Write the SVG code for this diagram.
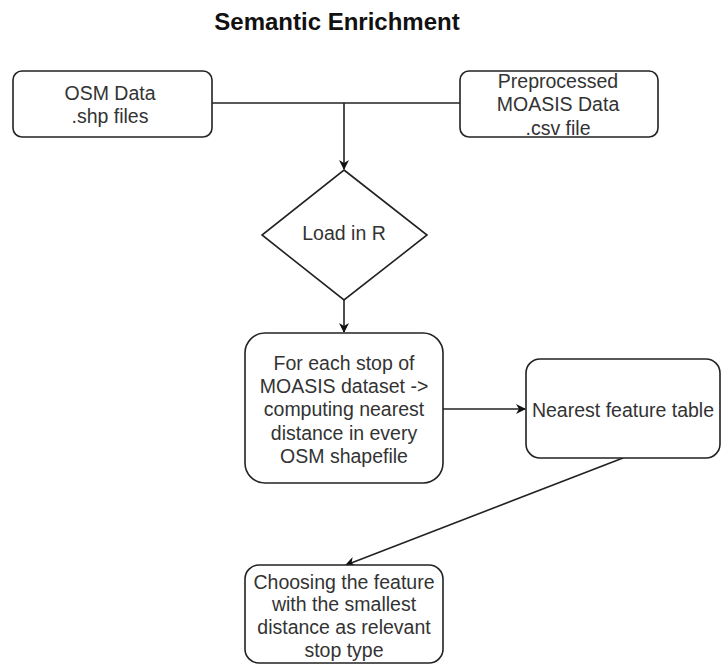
<svg xmlns="http://www.w3.org/2000/svg" width="721" height="666" viewBox="0 0 721 666">
<defs>
<style>
.box{fill:#fff;stroke:#222;stroke-width:1.6}
.t{font-family:"Liberation Sans",Arial,sans-serif;font-size:19.5px;fill:#333;text-anchor:middle}
.title{font-family:"Liberation Sans",Arial,sans-serif;font-size:24px;font-weight:bold;fill:#111;text-anchor:middle}
.edge{fill:none;stroke:#222;stroke-width:1.6}
</style>
<marker id="arr" viewBox="0 0 10 10" refX="9" refY="5" markerWidth="10" markerHeight="10" markerUnits="userSpaceOnUse" orient="auto">
<path d="M0,0 L10,5 L0,10 L3,5 Z" fill="#111"/>
</marker>
</defs>
<rect width="721" height="666" fill="#fff"/>
<text class="title" x="337" y="30">Semantic Enrichment</text>

<g id="connectors">
<path class="edge" d="M212,103 H460"/>
<path class="edge" d="M344,103 V169" marker-end="url(#arr)"/>
<path class="edge" d="M344,300 V332" marker-end="url(#arr)"/>
<path class="edge" d="M443,409 H525" marker-end="url(#arr)"/>
<path class="edge" d="M623,458 L346,565" marker-end="url(#arr)"/>
</g>

<g id="osm">
<rect class="box" x="13" y="71" width="199" height="66" rx="9"/>
<text class="t" x="110" y="100">OSM Data</text>
<text class="t" x="110" y="123">.shp files</text>
</g>

<g id="moasis">
<rect class="box" x="460" y="71" width="198" height="66" rx="9"/>
<text class="t" x="558" y="88">Preprocessed</text>
<text class="t" x="558" y="111">MOASIS Data</text>
<text class="t" x="558" y="135">.csv file</text>
</g>

<g id="load">
<polygon class="box" points="344,170 427,235 344,300 262,235"/>
<text class="t" x="344" y="240">Load in R</text>
</g>

<g id="compute">
<rect class="box" x="245" y="333" width="198" height="150" rx="20"/>
<text class="t" x="344" y="370">For each stop of</text>
<text class="t" x="344" y="393">MOASIS dataset -&gt;</text>
<text class="t" x="344" y="416">computing nearest</text>
<text class="t" x="344" y="440">distance in every</text>
<text class="t" x="344" y="463">OSM shapefile</text>
</g>

<g id="nearest">
<rect class="box" x="526" y="359" width="194" height="99" rx="14"/>
<text class="t" x="623" y="417">Nearest feature table</text>
</g>

<g id="choose">
<rect class="box" x="245" y="565" width="198" height="98" rx="14"/>
<text class="t" x="344" y="589">Choosing the feature</text>
<text class="t" x="344" y="611">with the smallest</text>
<text class="t" x="344" y="634">distance as relevant</text>
<text class="t" x="344" y="657">stop type</text>
</g>
</svg>
